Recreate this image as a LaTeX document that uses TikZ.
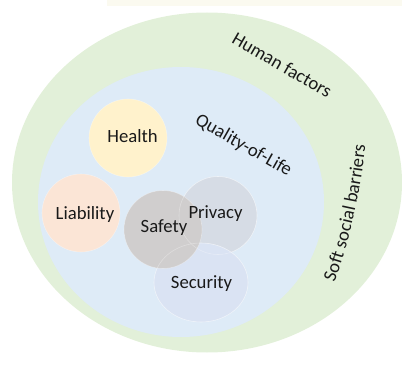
\documentclass[tikz,border=0pt]{standalone}
\usepackage{fontspec}
\setmainfont{Carlito}
\usetikzlibrary{shapes.geometric,decorations.text}
\definecolor{stripc}{RGB}{251,250,240}
\definecolor{outerc}{RGB}{226,240,217}
\definecolor{innerc}{RGB}{222,235,247}
\definecolor{healthc}{RGB}{255,242,204}
\definecolor{liabc}{RGB}{251,229,214}
\definecolor{safec}{RGB}{208,206,206}
\definecolor{privc}{RGB}{214,220,229}
\definecolor{secc}{RGB}{218,227,243}
\newcommand\lblfont{\fontsize{18.7}{22}\selectfont}
\begin{document}
\begin{tikzpicture}[x=1pt,y=1pt,
  lbl/.style={font=\lblfont, text=black!90, inner sep=0pt, anchor=base},
  rim/.style={draw=white, draw opacity=0.35, line width=0.6pt},
  blob/.style={circle, minimum size=78pt, inner sep=0pt, rim}]
\useasboundingbox (0,0) rectangle (402,365);
\fill[stripc] (107,359) rectangle (402,365);
\fill[outerc] (207,182.5) ellipse [x radius=195, y radius=170];
\fill[innerc] (181,163) ellipse [x radius=143, y radius=135];
% circles
\node[blob, fill=healthc] (health) at (128,227) {};
\node[blob, fill=liabc] (liab) at (81,152) {};
\node[blob, fill=privc] (priv) at (218,149.5) {};
\node[ellipse, minimum width=94pt, minimum height=79pt, inner sep=0pt, fill=secc, rim] (sec) at (201,82.5) {};
\node[blob, fill=safec] (safe) at (163,135.5) {};
\draw[white, opacity=0.3, line width=0.6pt] (priv.center) circle [radius=39];
\draw[white, opacity=0.3, line width=0.6pt] (sec.center) ellipse [x radius=47, y radius=39.5];
% labels
\node[lbl] (healtht) at (132.5,222.3) {Health};
\node[lbl] (liabt) at (85,145.7) {Liability};
\node[lbl] (safet) at (164,132.5) {Safety};
\node[lbl] (privt) at (215.5,146.7) {Privacy};
\node[lbl] (sect) at (201.5,76.7) {Security};
\node[lbl, rotate=-30] (human) at (279,294.5) {Human factors};
\node[lbl, rotate=-29.5] (qol) at (241,215) {Quality-of-Life};
\coordinate (softstart) at (333,78);
\path[decorate, decoration={text along path, text align=center, text color=black!90,
  text={|\lblfont|Soft social barriers}}]
  (softstart) arc [start angle=-19.86, end angle=-5.44, radius=600];
\end{tikzpicture}
\end{document}
